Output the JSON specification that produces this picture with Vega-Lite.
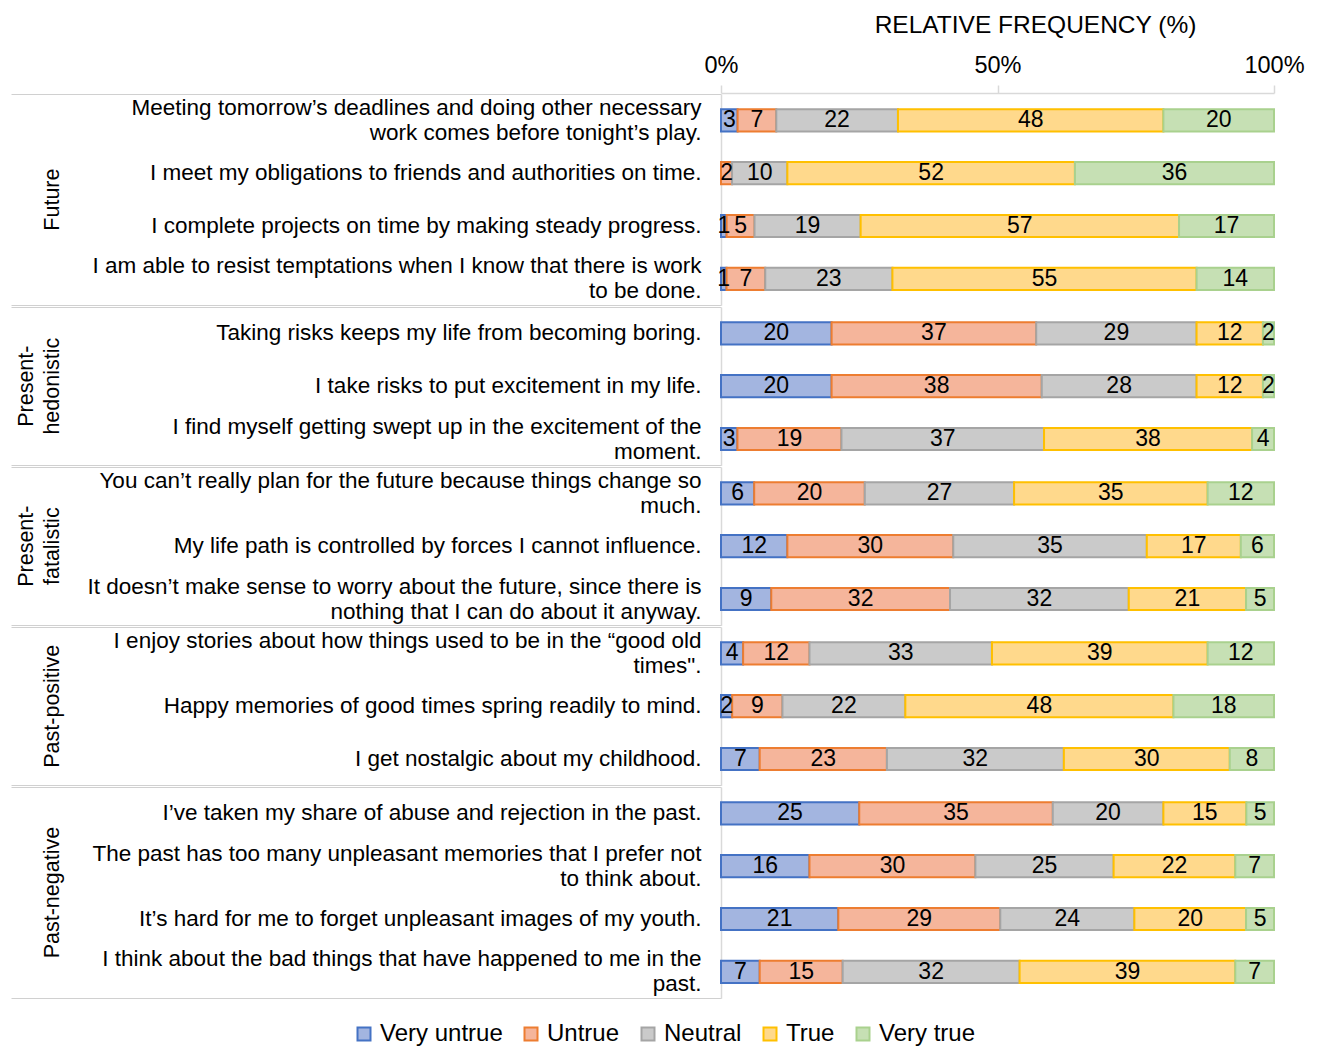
{
  "$schema": "https://vega.github.io/schema/vega-lite/v6.json",
  "padding": {"left": 10, "top": 12, "right": 10, "bottom": 0},
  "config": {"font": "Liberation Sans", "view": {"stroke": null}},
  "datasets": {
    "items": [
      {"o": 1, "g": "Future", "i": "Meeting tomorrow’s deadlines and doing other necessary|work comes before tonight’s play."},
      {"o": 2, "g": "Future", "i": "I meet my obligations to friends and authorities on time."},
      {"o": 3, "g": "Future", "i": "I complete projects on time by making steady progress."},
      {"o": 4, "g": "Future", "i": "I am able to resist temptations when I know that there is work|to be done."},
      {"o": 5, "g": "Present-|hedonistic", "i": "Taking risks keeps my life from becoming boring."},
      {"o": 6, "g": "Present-|hedonistic", "i": "I take risks to put excitement in my life."},
      {"o": 7, "g": "Present-|hedonistic", "i": "I find myself getting swept up in the excitement of the|moment."},
      {"o": 8, "g": "Present-|fatalistic", "i": "You can’t really plan for the future because things change so|much."},
      {"o": 9, "g": "Present-|fatalistic", "i": "My life path is controlled by forces I cannot influence."},
      {"o": 10, "g": "Present-|fatalistic", "i": "It doesn’t make sense to worry about the future, since there is|nothing that I can do about it anyway."},
      {"o": 11, "g": "Past-positive", "i": "I enjoy stories about how things used to be in the “good old|times\"."},
      {"o": 12, "g": "Past-positive", "i": "Happy memories of good times spring readily to mind."},
      {"o": 13, "g": "Past-positive", "i": "I get nostalgic about my childhood."},
      {"o": 14, "g": "Past-negative", "i": "I’ve taken my share of abuse and rejection in the past."},
      {"o": 15, "g": "Past-negative", "i": "The past has too many unpleasant memories that I prefer not|to think about."},
      {"o": 16, "g": "Past-negative", "i": "It’s hard for me to forget unpleasant images of my youth."},
      {"o": 17, "g": "Past-negative", "i": "I think about the bad things that have happened to me in the|past."}
    ],
    "resps": [
      {"r": "Very untrue", "ro": 1},
      {"r": "Untrue", "ro": 2},
      {"r": "Neutral", "ro": 3},
      {"r": "True", "ro": 4},
      {"r": "Very true", "ro": 5}
    ],
    "vals": [
      {"o": 1, "r": "Very untrue", "v": 3}, {"o": 1, "r": "Untrue", "v": 7}, {"o": 1, "r": "Neutral", "v": 22}, {"o": 1, "r": "True", "v": 48}, {"o": 1, "r": "Very true", "v": 20},
      {"o": 2, "r": "Untrue", "v": 2}, {"o": 2, "r": "Neutral", "v": 10}, {"o": 2, "r": "True", "v": 52}, {"o": 2, "r": "Very true", "v": 36},
      {"o": 3, "r": "Very untrue", "v": 1}, {"o": 3, "r": "Untrue", "v": 5}, {"o": 3, "r": "Neutral", "v": 19}, {"o": 3, "r": "True", "v": 57}, {"o": 3, "r": "Very true", "v": 17},
      {"o": 4, "r": "Very untrue", "v": 1}, {"o": 4, "r": "Untrue", "v": 7}, {"o": 4, "r": "Neutral", "v": 23}, {"o": 4, "r": "True", "v": 55}, {"o": 4, "r": "Very true", "v": 14},
      {"o": 5, "r": "Very untrue", "v": 20}, {"o": 5, "r": "Untrue", "v": 37}, {"o": 5, "r": "Neutral", "v": 29}, {"o": 5, "r": "True", "v": 12}, {"o": 5, "r": "Very true", "v": 2},
      {"o": 6, "r": "Very untrue", "v": 20}, {"o": 6, "r": "Untrue", "v": 38}, {"o": 6, "r": "Neutral", "v": 28}, {"o": 6, "r": "True", "v": 12}, {"o": 6, "r": "Very true", "v": 2},
      {"o": 7, "r": "Very untrue", "v": 3}, {"o": 7, "r": "Untrue", "v": 19}, {"o": 7, "r": "Neutral", "v": 37}, {"o": 7, "r": "True", "v": 38}, {"o": 7, "r": "Very true", "v": 4},
      {"o": 8, "r": "Very untrue", "v": 6}, {"o": 8, "r": "Untrue", "v": 20}, {"o": 8, "r": "Neutral", "v": 27}, {"o": 8, "r": "True", "v": 35}, {"o": 8, "r": "Very true", "v": 12},
      {"o": 9, "r": "Very untrue", "v": 12}, {"o": 9, "r": "Untrue", "v": 30}, {"o": 9, "r": "Neutral", "v": 35}, {"o": 9, "r": "True", "v": 17}, {"o": 9, "r": "Very true", "v": 6},
      {"o": 10, "r": "Very untrue", "v": 9}, {"o": 10, "r": "Untrue", "v": 32}, {"o": 10, "r": "Neutral", "v": 32}, {"o": 10, "r": "True", "v": 21}, {"o": 10, "r": "Very true", "v": 5},
      {"o": 11, "r": "Very untrue", "v": 4}, {"o": 11, "r": "Untrue", "v": 12}, {"o": 11, "r": "Neutral", "v": 33}, {"o": 11, "r": "True", "v": 39}, {"o": 11, "r": "Very true", "v": 12},
      {"o": 12, "r": "Very untrue", "v": 2}, {"o": 12, "r": "Untrue", "v": 9}, {"o": 12, "r": "Neutral", "v": 22}, {"o": 12, "r": "True", "v": 48}, {"o": 12, "r": "Very true", "v": 18},
      {"o": 13, "r": "Very untrue", "v": 7}, {"o": 13, "r": "Untrue", "v": 23}, {"o": 13, "r": "Neutral", "v": 32}, {"o": 13, "r": "True", "v": 30}, {"o": 13, "r": "Very true", "v": 8},
      {"o": 14, "r": "Very untrue", "v": 25}, {"o": 14, "r": "Untrue", "v": 35}, {"o": 14, "r": "Neutral", "v": 20}, {"o": 14, "r": "True", "v": 15}, {"o": 14, "r": "Very true", "v": 5},
      {"o": 15, "r": "Very untrue", "v": 16}, {"o": 15, "r": "Untrue", "v": 30}, {"o": 15, "r": "Neutral", "v": 25}, {"o": 15, "r": "True", "v": 22}, {"o": 15, "r": "Very true", "v": 7},
      {"o": 16, "r": "Very untrue", "v": 21}, {"o": 16, "r": "Untrue", "v": 29}, {"o": 16, "r": "Neutral", "v": 24}, {"o": 16, "r": "True", "v": 20}, {"o": 16, "r": "Very true", "v": 5},
      {"o": 17, "r": "Very untrue", "v": 7}, {"o": 17, "r": "Untrue", "v": 15}, {"o": 17, "r": "Neutral", "v": 32}, {"o": 17, "r": "True", "v": 39}, {"o": 17, "r": "Very true", "v": 7}
    ]
  },
  "data": {"name": "vals"},
  "transform": [
    {"lookup": "o", "from": {"data": {"name": "items"}, "key": "o", "fields": ["g", "i"]}},
    {"lookup": "r", "from": {"data": {"name": "resps"}, "key": "r", "fields": ["ro"]}}
  ],
  "facet": {
    "row": {
      "field": "g", "type": "nominal",
      "sort": ["Future", "Present-|hedonistic", "Present-|fatalistic", "Past-positive", "Past-negative"],
      "header": {
        "title": null, "labelAngle": -90, "labelOrient": "left", "labelFontSize": 21.5,
        "labelColor": "#000", "labelExpr": "split(datum.value, '|')", "labelPadding": -64, "labelLineHeight": 26
      }
    }
  },
  "spacing": {"row": 0},
  "resolve": {"scale": {"y": "independent"}, "axis": {"y": "independent"}},
  "spec": {
    "width": 553,
    "height": {"step": 52.8},
    "encoding": {
      "y": {
        "field": "i", "type": "nominal", "sort": {"field": "o"},
        "scale": {"paddingInner": 0, "paddingOuter": 0},
        "axis": {
          "title": null, "labelColor": "#000", "labelLimit": 0, "labelLineHeight": 25,
          "labelFontSize": {"condition": {"test": "datum.extra", "value": 0}, "value": 22.5},
          "labelExpr": "datum.label ? split(datum.label, '|') : ''",
          "labelBaseline": "middle",
          "labelOffset": {"condition": {"test": "indexof(datum.label, '|') >= 0", "value": -12.5}, "value": 0},
          "domainColor": "#d9d9d9", "domainWidth": 1.5,
          "bandPosition": 1, "tickExtra": true, "tickSize": 710, "tickWidth": 1,
          "tickColor": {"condition": {"test": "datum.index === 1 || datum.extra", "value": "#d0d0d0"}, "value": "rgba(0,0,0,0)"},
          "labelPadding": -690
        }
      },
      "x": {
        "field": "v", "type": "quantitative", "stack": "normalize",
        "axis": {
          "orient": "top", "title": "RELATIVE FREQUENCY (%)", "titleFontSize": 24.5, "titleFontWeight": "normal",
          "titleColor": "#000", "titlePadding": 16, "titleX": 314,
          "values": [0, 0.5, 1], "format": ".0%", "labelFlush": false, "labelFontSize": 23.5, "labelColor": "#000",
          "labelPadding": 8, "tickSize": 8, "tickColor": "#d9d9d9", "tickWidth": 1.5,
          "domainColor": "#d9d9d9", "domainWidth": 1.5, "grid": false
        }
      },
      "order": {"field": "ro", "type": "quantitative"}
    },
    "layer": [
      {
        "mark": {"type": "bar", "height": {"band": 0.42}, "strokeWidth": 2},
        "encoding": {
          "fill": {
            "field": "r", "type": "nominal",
            "scale": {"domain": ["Very untrue", "Untrue", "Neutral", "True", "Very true"],
                      "range": ["#a3b5e0", "#f5b59b", "#cacaca", "#ffd98c", "#c6e0b4"]},
            "legend": {"orient": "none", "legendX": -369, "legendY": 928, "direction": "horizontal", "title": null, "symbolType": "square",
                       "symbolSize": 169, "labelFontSize": 24, "labelColor": "#000", "symbolStrokeWidth": 2, "columnPadding": 16}
          },
          "stroke": {
            "field": "r", "type": "nominal",
            "scale": {"domain": ["Very untrue", "Untrue", "Neutral", "True", "Very true"],
                      "range": ["#4472c4", "#ed7d31", "#a5a5a5", "#ffc000", "#a9d18e"]},
            "legend": {"orient": "none", "legendX": -369, "legendY": 928, "direction": "horizontal", "title": null, "symbolType": "square",
                       "symbolSize": 169, "labelFontSize": 24, "labelColor": "#000", "symbolStrokeWidth": 2, "columnPadding": 16}
          }
        }
      },
      {
        "mark": {"type": "text", "fontSize": 23, "color": "#000"},
        "encoding": {
          "x": {"field": "v", "type": "quantitative", "stack": "normalize", "bandPosition": 0.5},
          "detail": {"field": "r", "type": "nominal"},
          "text": {"field": "v", "type": "quantitative"}
        }
      }
    ]
  }
}
